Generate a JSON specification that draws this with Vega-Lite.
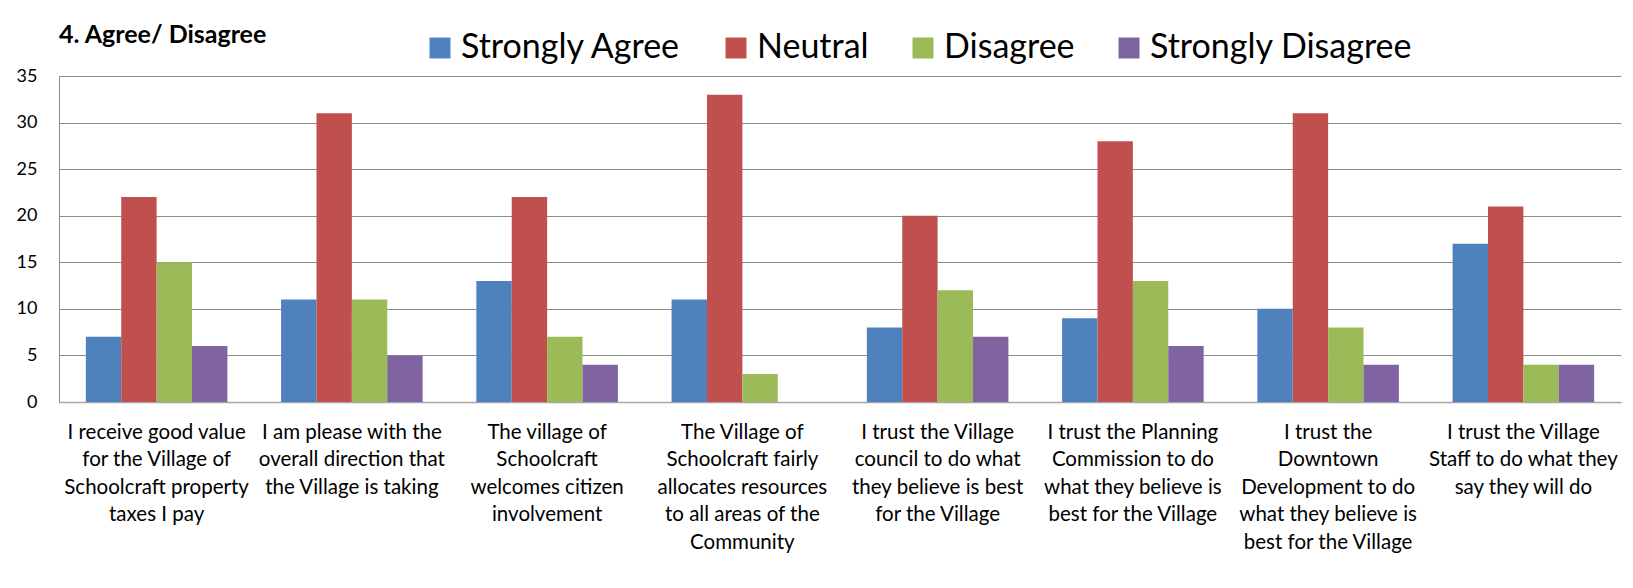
{
  "$schema": "https://vega.github.io/schema/vega-lite/v6.json",
  "width": 1562,
  "height": 326,
  "autosize": {"type": "none"},
  "padding": {"left": 59, "top": 76, "right": 12, "bottom": 186},
  "background": "white",
  "title": {
    "text": "4. Agree/ Disagree",
    "anchor": "start",
    "frame": "group",
    "font": "Lato",
    "fontSize": 25,
    "fontWeight": "bold",
    "color": "#000000",
    "offset": -17
  },
  "data": {
    "values": [
      {"q": "I receive good value|for the Village of|Schoolcraft property|taxes I pay", "resp": "Strongly Agree", "n": 7},
      {"q": "I receive good value|for the Village of|Schoolcraft property|taxes I pay", "resp": "Neutral", "n": 22},
      {"q": "I receive good value|for the Village of|Schoolcraft property|taxes I pay", "resp": "Disagree", "n": 15},
      {"q": "I receive good value|for the Village of|Schoolcraft property|taxes I pay", "resp": "Strongly Disagree", "n": 6},
      {"q": "I am please with the|overall direction that|the Village is taking", "resp": "Strongly Agree", "n": 11},
      {"q": "I am please with the|overall direction that|the Village is taking", "resp": "Neutral", "n": 31},
      {"q": "I am please with the|overall direction that|the Village is taking", "resp": "Disagree", "n": 11},
      {"q": "I am please with the|overall direction that|the Village is taking", "resp": "Strongly Disagree", "n": 5},
      {"q": "The village of|Schoolcraft|welcomes citizen|involvement", "resp": "Strongly Agree", "n": 13},
      {"q": "The village of|Schoolcraft|welcomes citizen|involvement", "resp": "Neutral", "n": 22},
      {"q": "The village of|Schoolcraft|welcomes citizen|involvement", "resp": "Disagree", "n": 7},
      {"q": "The village of|Schoolcraft|welcomes citizen|involvement", "resp": "Strongly Disagree", "n": 4},
      {"q": "The Village of|Schoolcraft fairly|allocates resources|to all areas of the|Community", "resp": "Strongly Agree", "n": 11},
      {"q": "The Village of|Schoolcraft fairly|allocates resources|to all areas of the|Community", "resp": "Neutral", "n": 33},
      {"q": "The Village of|Schoolcraft fairly|allocates resources|to all areas of the|Community", "resp": "Disagree", "n": 3},
      {"q": "The Village of|Schoolcraft fairly|allocates resources|to all areas of the|Community", "resp": "Strongly Disagree", "n": 0},
      {"q": "I trust the Village|council to do what|they believe is best|for the Village", "resp": "Strongly Agree", "n": 8},
      {"q": "I trust the Village|council to do what|they believe is best|for the Village", "resp": "Neutral", "n": 20},
      {"q": "I trust the Village|council to do what|they believe is best|for the Village", "resp": "Disagree", "n": 12},
      {"q": "I trust the Village|council to do what|they believe is best|for the Village", "resp": "Strongly Disagree", "n": 7},
      {"q": "I trust the Planning|Commission to do|what they believe is|best for the Village", "resp": "Strongly Agree", "n": 9},
      {"q": "I trust the Planning|Commission to do|what they believe is|best for the Village", "resp": "Neutral", "n": 28},
      {"q": "I trust the Planning|Commission to do|what they believe is|best for the Village", "resp": "Disagree", "n": 13},
      {"q": "I trust the Planning|Commission to do|what they believe is|best for the Village", "resp": "Strongly Disagree", "n": 6},
      {"q": "I trust the|Downtown|Development to do|what they believe is|best for the Village", "resp": "Strongly Agree", "n": 10},
      {"q": "I trust the|Downtown|Development to do|what they believe is|best for the Village", "resp": "Neutral", "n": 31},
      {"q": "I trust the|Downtown|Development to do|what they believe is|best for the Village", "resp": "Disagree", "n": 8},
      {"q": "I trust the|Downtown|Development to do|what they believe is|best for the Village", "resp": "Strongly Disagree", "n": 4},
      {"q": "I trust the Village|Staff to do what they|say they will do", "resp": "Strongly Agree", "n": 17},
      {"q": "I trust the Village|Staff to do what they|say they will do", "resp": "Neutral", "n": 21},
      {"q": "I trust the Village|Staff to do what they|say they will do", "resp": "Disagree", "n": 4},
      {"q": "I trust the Village|Staff to do what they|say they will do", "resp": "Strongly Disagree", "n": 4}
    ]
  },
  "mark": {"type": "bar"},
  "encoding": {
    "x": {
      "field": "q",
      "type": "nominal",
      "sort": null,
      "scale": {"paddingInner": 0.275, "paddingOuter": 0.1375},
      "axis": {
        "title": null,
        "labelAngle": 0,
        "labelExpr": "split(datum.label, '|')",
        "labelFont": "Lato",
        "labelFontSize": 20.5,
        "labelLineHeight": 27.5,
        "labelColor": "#000000",
        "labelPadding": 20,
        "labelLimit": 0,
        "ticks": false,
        "domainColor": "#a6a6a6",
        "domainWidth": 1.5,
        "grid": false
      }
    },
    "xOffset": {
      "field": "resp",
      "type": "nominal",
      "sort": ["Strongly Agree", "Neutral", "Disagree", "Strongly Disagree"],
      "scale": {"paddingInner": 0, "paddingOuter": 0}
    },
    "y": {
      "field": "n",
      "type": "quantitative",
      "scale": {"domain": [0, 35], "nice": false},
      "axis": {
        "title": null,
        "values": [0, 5, 10, 15, 20, 25, 30, 35],
        "labelFont": "Lato",
        "labelFontSize": 18,
        "labelColor": "#000000",
        "labelPadding": 22,
        "ticks": false,
        "domainColor": "#8c8c8c",
        "gridColor": "#8c8c8c",
        "gridWidth": 1
      }
    },
    "color": {
      "field": "resp",
      "type": "nominal",
      "scale": {
        "domain": ["Strongly Agree", "Neutral", "Disagree", "Strongly Disagree"],
        "range": ["#4F81BD", "#C0504D", "#9BBB59", "#8064A2"]
      },
      "legend": {
        "title": null,
        "orient": "none",
        "legendX": 364,
        "legendY": -45,
        "direction": "horizontal",
        "symbolType": "square",
        "symbolSize": 441,
        "symbolStrokeWidth": 0,
        "labelFont": "Lato",
        "labelFontSize": 34,
        "labelColor": "#000000",
        "labelOffset": 4,
        "columnPadding": 37,
        "labelLimit": 0
      }
    }
  },
  "config": {
    "view": {"stroke": null},
    "font": "Lato"
  }
}
